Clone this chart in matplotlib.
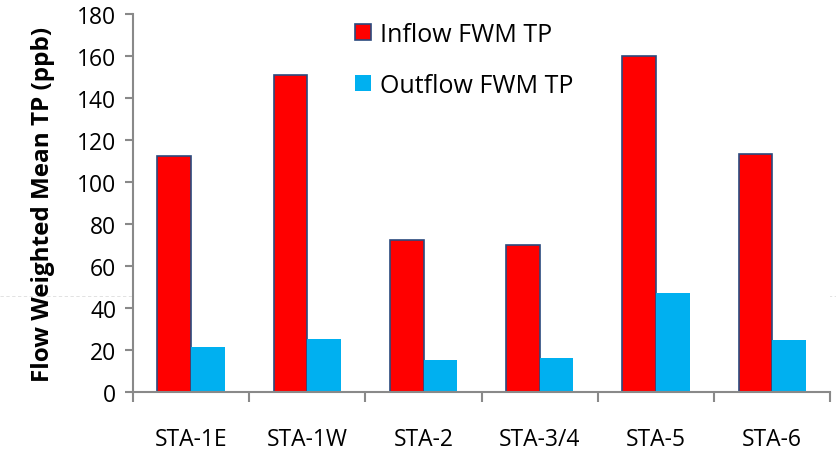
import matplotlib.pyplot as plt
import numpy as np
from matplotlib.lines import Line2D

plt.rcParams['font.family'] = ['Open Sans', 'DejaVu Sans']

stations = ["STA-1E", "STA-1W", "STA-2", "STA-3/4", "STA-5", "STA-6"]
inflow_tp = [112.5, 151, 72.4, 70, 160, 113.3]
outflow_tp = [21.5, 25.2, 15.2, 16.2, 47, 25]

fig = plt.figure(figsize=(8.37, 4.56), dpi=100)
ax = fig.add_axes([0.159, 0.138, 0.833, 0.829])

x = np.arange(len(stations))
w = 0.29
ax.bar(x - w / 2, inflow_tp, w, color="#ff0000", edgecolor="#2b4a7e", linewidth=1.2,
       label="Inflow FWM TP")
ax.bar(x + w / 2, outflow_tp, w, color="#00b0f0", label="Outflow FWM TP")

ax.set_xlim(-0.5, len(stations) - 0.5)
ax.set_ylim(0, 180)
ax.set_yticks(np.arange(0, 181, 20))

# labels at centers, tick marks at category boundaries
ax.set_xticks(x)
ax.set_xticklabels(stations)
ax.set_xticks(np.arange(-0.5, len(stations)), minor=True)
ax.tick_params(axis="x", which="major", length=0, pad=25, labelsize=16.5)
ax.tick_params(axis="x", which="minor", length=7, width=1.5, color="#898989")
ax.tick_params(axis="y", length=6, width=1.5, color="#898989", labelsize=16.5, pad=6)

for side in ["top", "right"]:
    ax.spines[side].set_visible(False)
for side in ["left", "bottom"]:
    ax.spines[side].set_color("#898989")
    ax.spines[side].set_linewidth(1.5)

ax.set_ylabel("Flow Weighted Mean TP (ppb)", fontsize=17.5, fontweight="bold", labelpad=16)

ax.legend(loc="upper left", bbox_to_anchor=(0.301, 1.012), frameon=False, fontsize=18,
          borderpad=0, handlelength=0.62, handleheight=0.62, handletextpad=0.35,
          labelspacing=1.02)

# faint dashed guide line across the image
fig.add_artist(Line2D([0, 1], [1 - 297 / 456, 1 - 297 / 456], transform=fig.transFigure,
                      color="#dddddd", linewidth=0.6, linestyle=(0, (4, 3)), zorder=0))

fig.savefig("out.png", dpi=100)
